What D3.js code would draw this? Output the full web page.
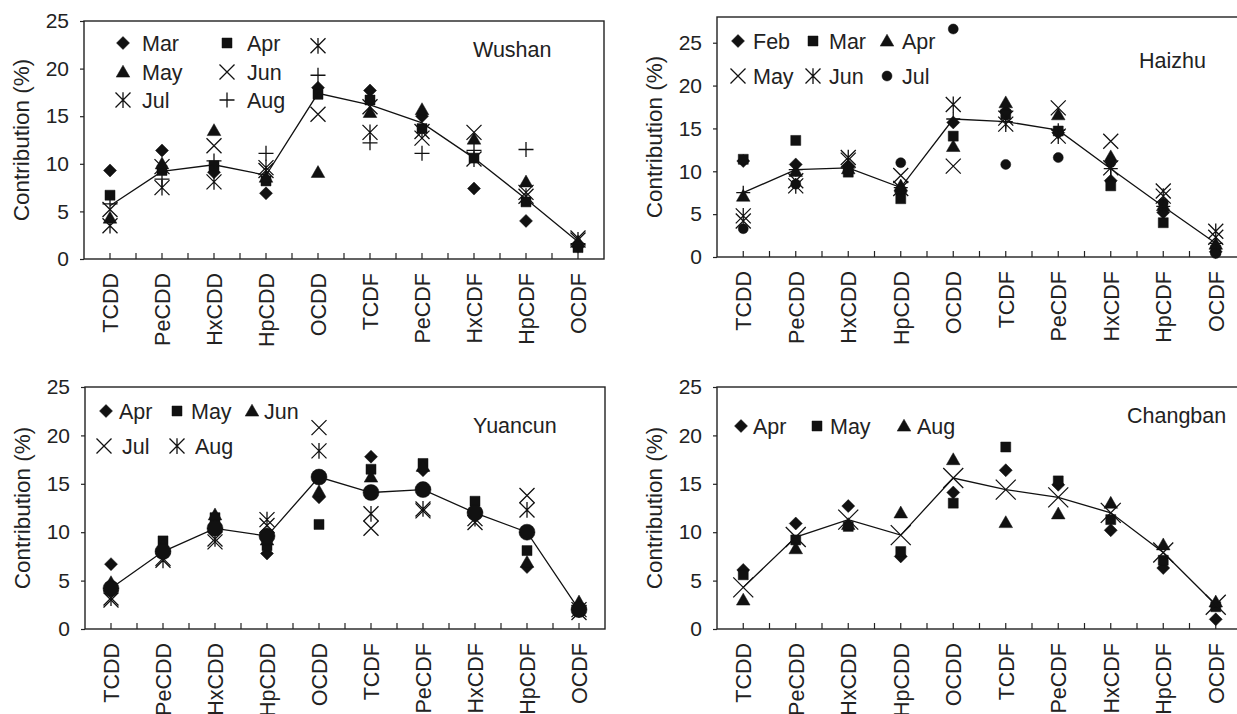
<!DOCTYPE html>
<html>
<head>
<meta charset="utf-8">
<script src="https://cdn.jsdelivr.net/npm/d3@7"></script>
<style>
  html, body { margin: 0; padding: 0; background: #fff; }
  svg { display: block; font-family: "Liberation Sans", Arial, Helvetica, sans-serif; }
</style>
</head>
<body>
<svg class="js-render-chart" width="1237" height="714"></svg>
<script>
"use strict";

//data

const compounds = ["TCDD", "PeCDD", "HxCDD", "HpCDD", "OCDD", "TCDF", "PeCDF", "HxCDF", "HpCDF", "OCDF"];
const yTicks = [0, 5, 10, 15, 20, 25];

const wushanMonths = ["Mar", "Apr", "May", "Jun", "Jul", "Aug"];
const wushanValues = [
  [9.3, 11.4, 9.1, 6.9, 18.0, 17.7, 15.0, 7.4, 4.0, 1.3],
  [6.7, 9.3, 9.8, 8.2, 17.3, 16.7, 13.7, 10.6, 6.0, 1.2],
  [4.3, 10.0, 13.5, 8.6, 9.1, 15.4, 15.7, 12.6, 8.1, 1.8],
  [5.2, 9.7, 11.9, 9.3, 15.2, 16.0, 12.7, 13.3, 7.0, 2.2],
  [3.5, 7.5, 8.1, 9.6, 22.4, 13.3, 13.4, 10.5, 6.6, 2.0],
  [5.8, 8.4, 10.3, 11.1, 19.3, 12.2, 11.1, 11.4, 11.5, 1.6]
];
const wushanMean = [5.6, 9.2, 9.9, 8.8, 17.4, 16.2, 14.3, 10.6, 6.3, 1.8];

const haizhuMonths = ["Feb", "Mar", "Apr", "May", "Jun", "Jul"];
const haizhuValues = [
  [11.2, 10.8, 10.6, 7.6, 15.7, 17.0, 14.5, 8.9, 5.2, 0.6],
  [11.4, 13.6, 9.9, 6.8, 14.1, 16.6, 14.7, 8.3, 4.0, 0.8],
  [7.1, 10.0, 10.3, 8.3, 12.9, 18.0, 16.6, 11.7, 6.0, 1.5],
  [4.2, 8.9, 11.3, 9.5, 10.6, 16.2, 17.4, 13.5, 7.7, 2.3],
  [4.8, 8.3, 11.6, 8.0, 17.8, 15.5, 14.1, 10.4, 7.1, 3.0],
  [3.3, 8.5, 10.1, 11.0, 26.6, 10.8, 11.6, 11.0, 6.3, 0.4]
];
const haizhuMean = [7.5, 10.2, 10.4, 8.1, 16.1, 15.8, 14.8, 10.3, 5.9, 1.6];

const yuancunMonths = ["Apr", "May", "Jun", "Jul", "Aug"];
const yuancunValues = [
  [6.7, 8.2, 10.8, 7.8, 13.6, 17.8, 16.4, 11.8, 6.4, 1.9],
  [4.3, 9.1, 11.5, 8.6, 10.8, 16.5, 17.1, 13.2, 8.1, 2.1],
  [4.8, 8.6, 11.8, 9.2, 14.2, 15.7, 16.8, 12.1, 6.9, 2.8],
  [3.0, 7.3, 9.0, 10.7, 20.8, 10.4, 12.2, 11.0, 13.8, 1.7],
  [3.2, 7.1, 9.3, 11.3, 18.4, 11.9, 12.4, 11.4, 12.3, 2.0]
];
const yuancunMean = [4.2, 8.0, 10.4, 9.6, 15.7, 14.1, 14.4, 12.0, 10.0, 2.0];

const changbanMonths = ["Apr", "May", "Aug"];
const changbanValues = [
  [6.1, 10.9, 12.7, 7.5, 14.1, 16.4, 14.9, 10.2, 6.3, 1.0],
  [5.6, 9.2, 10.6, 8.0, 13.0, 18.8, 15.3, 11.3, 7.1, 2.3],
  [3.0, 8.3, 10.8, 12.0, 17.5, 11.0, 11.9, 13.0, 8.7, 2.8]
];
const changbanMean = [4.3, 9.5, 11.3, 9.7, 15.6, 14.4, 13.6, 12.0, 7.9, 2.5];

//marker shapes (size = half width)

const shapes = {
  diamond: { draw: (c, s) => { c.moveTo(0, -s); c.lineTo(s, 0); c.lineTo(0, s); c.lineTo(-s, 0); c.closePath(); } },
  square: { draw: (c, s) => { c.rect(-s, -s, s * 2, s * 2); } },
  triangle: { draw: (c, s) => { c.moveTo(0, -s); c.lineTo(s, s * 0.75); c.lineTo(-s, s * 0.75); c.closePath(); } },
  circle: { draw: (c, s) => { c.moveTo(s, 0); c.arc(0, 0, s, 0, 2 * Math.PI); } },
  cross: { draw: (c, s) => { c.moveTo(-s, -s); c.lineTo(s, s); c.moveTo(-s, s); c.lineTo(s, -s); } },
  plus: { draw: (c, s) => { c.moveTo(-s, 0); c.lineTo(s, 0); c.moveTo(0, -s); c.lineTo(0, s); } },
  star: { draw: (c, s) => { c.moveTo(-s, -s); c.lineTo(s, s); c.moveTo(-s, s); c.lineTo(s, -s); c.moveTo(0, -s * 1.05); c.lineTo(0, s * 1.05); } }
};

const filled = (type) => ["diamond", "square", "triangle", "circle"].includes(type);

const markerSize = {
  diamond: 6.5,
  square: 5,
  triangle: 6.8,
  circle: 5,
  cross: 7.5,
  plus: 7.5,
  star: 7.5
};

const drawMarker = (g, type, x, y, size = markerSize[type]) => {
  g.append("path")
    .attr("transform", `translate(${x}, ${y})`)
    .attr("d", d3.symbol().type(shapes[type]).size(size)())
    .attr("fill", filled(type) ? "#111" : "none")
    .attr("stroke", "#111")
    .attr("stroke-width", filled(type) ? 0.5 : 1.3);
};

//panel

const drawPanel = (params) => {

  const { l, r, t, b, yMax, months, values, mean, types, meanType, meanSize, legend, title } = params;

  const svg = d3.select(".js-render-chart");
  const g = svg.append("g");

  const x = d3.scaleBand().domain(compounds).range([l, r]);
  const y = d3.scaleLinear().domain([0, yMax]).range([b, t]);
  const cx = (d) => x(d) + x.bandwidth() / 2;

  //frame

  g.append("rect")
    .attr("x", l)
    .attr("y", t)
    .attr("width", r - l)
    .attr("height", b - t)
    .attr("fill", "none")
    .attr("stroke", "#222")
    .attr("stroke-width", 1.4);

  //y axis

  const ya = d3.axisLeft(y).tickValues(yTicks).tickSize(4).tickPadding(11).tickFormat(d3.format("d"));

  g.append("g")
    .attr("transform", `translate(${l}, 0)`)
    .call(ya)
    .call((a) => a.select(".domain").remove())
    .call((a) => a.selectAll("line").attr("stroke", "#222").attr("stroke-width", 1.2))
    .call((a) => a.selectAll("text").attr("font-size", 21).attr("fill", "#222").attr("font-family", null));

  //x axis ticks inward, at band centres and band edges

  const tickPos = [];
  compounds.forEach((d, i) => {
    tickPos.push(cx(d));
    if (i < compounds.length - 1) tickPos.push(x(d) + x.bandwidth());
  });

  g.append("g")
    .selectAll("line")
    .data(tickPos)
    .join("line")
    .attr("x1", (d) => d)
    .attr("x2", (d) => d)
    .attr("y1", b)
    .attr("y2", b - 6)
    .attr("stroke", "#222")
    .attr("stroke-width", 1.2);

  g.append("g")
    .selectAll("text")
    .data(compounds)
    .join("text")
    .attr("transform", (d) => `translate(${cx(d)}, ${b + 14}) rotate(-90)`)
    .attr("text-anchor", "end")
    .attr("dy", "0.36em")
    .attr("font-size", 21.5)
    .attr("fill", "#222")
    .text((d) => d);

  //y title

  g.append("text")
    .attr("transform", `translate(${l - 55}, ${(t + b) / 2}) rotate(-90)`)
    .attr("text-anchor", "middle")
    .attr("font-size", 22.5)
    .attr("fill", "#222")
    .text("Contribution (%)");

  //monthly markers

  values.forEach((row, i) => {
    row.forEach((v, j) => drawMarker(g, types[i], cx(compounds[j]), y(v)));
  });

  //mean line

  const line = d3.line()
    .x((d, j) => cx(compounds[j]))
    .y((d) => y(d));

  g.append("path")
    .datum(mean)
    .attr("d", line)
    .attr("fill", "none")
    .attr("stroke", "#111")
    .attr("stroke-width", 1.3);

  if (meanType) {
    mean.forEach((v, j) => drawMarker(g, meanType, cx(compounds[j]), y(v), meanSize));
  }

  //legend

  months.forEach((m, i) => {
    const [mx, tx, my] = legend[i];
    drawMarker(g, types[i], mx, my);
    g.append("text")
      .attr("x", tx)
      .attr("y", my)
      .attr("dy", "0.35em")
      .attr("font-size", 21.5)
      .attr("fill", "#222")
      .text(m);
  });

  //site name

  g.append("text")
    .attr("x", title.x)
    .attr("y", title.y)
    .attr("font-size", 21.5)
    .attr("fill", "#222")
    .text(title.text);

};

//panels

drawPanel({
  l: 84, r: 604, t: 21, b: 259, yMax: 25,
  months: wushanMonths,
  values: wushanValues,
  mean: wushanMean,
  types: ["diamond", "square", "triangle", "cross", "star", "plus"],
  meanType: null,
  legend: [[123, 142, 43], [227, 247, 43], [123, 142, 72], [227, 247, 72], [123, 142, 100], [227, 247, 100]],
  title: { text: "Wushan", x: 473, y: 57 }
});

drawPanel({
  l: 717, r: 1242, t: 17, b: 257, yMax: 28,
  months: haizhuMonths,
  values: haizhuValues,
  mean: haizhuMean,
  types: ["diamond", "square", "triangle", "cross", "star", "circle"],
  meanType: "plus",
  meanSize: 7,
  legend: [[738, 753, 41], [813, 829, 41], [887, 902, 41], [738, 753, 76], [813, 829, 76], [887, 902, 76]],
  title: { text: "Haizhu", x: 1139, y: 68 }
});

drawPanel({
  l: 85, r: 605, t: 387, b: 629, yMax: 25,
  months: yuancunMonths,
  values: yuancunValues,
  mean: yuancunMean,
  types: ["diamond", "square", "triangle", "cross", "star"],
  meanType: "circle",
  meanSize: 8,
  legend: [[106, 119, 411], [177, 191, 411], [252, 264, 411], [104, 122, 446], [177, 195, 446]],
  title: { text: "Yuancun", x: 473, y: 433 }
});

drawPanel({
  l: 717, r: 1242, t: 387, b: 629, yMax: 25,
  months: changbanMonths,
  values: changbanValues,
  mean: changbanMean,
  types: ["diamond", "square", "triangle"],
  meanType: "cross",
  meanSize: 10,
  legend: [[741, 753, 426], [817, 830, 426], [904, 917, 426]],
  title: { text: "Changban", x: 1127, y: 423 }
});
</script>
</body>
</html>
